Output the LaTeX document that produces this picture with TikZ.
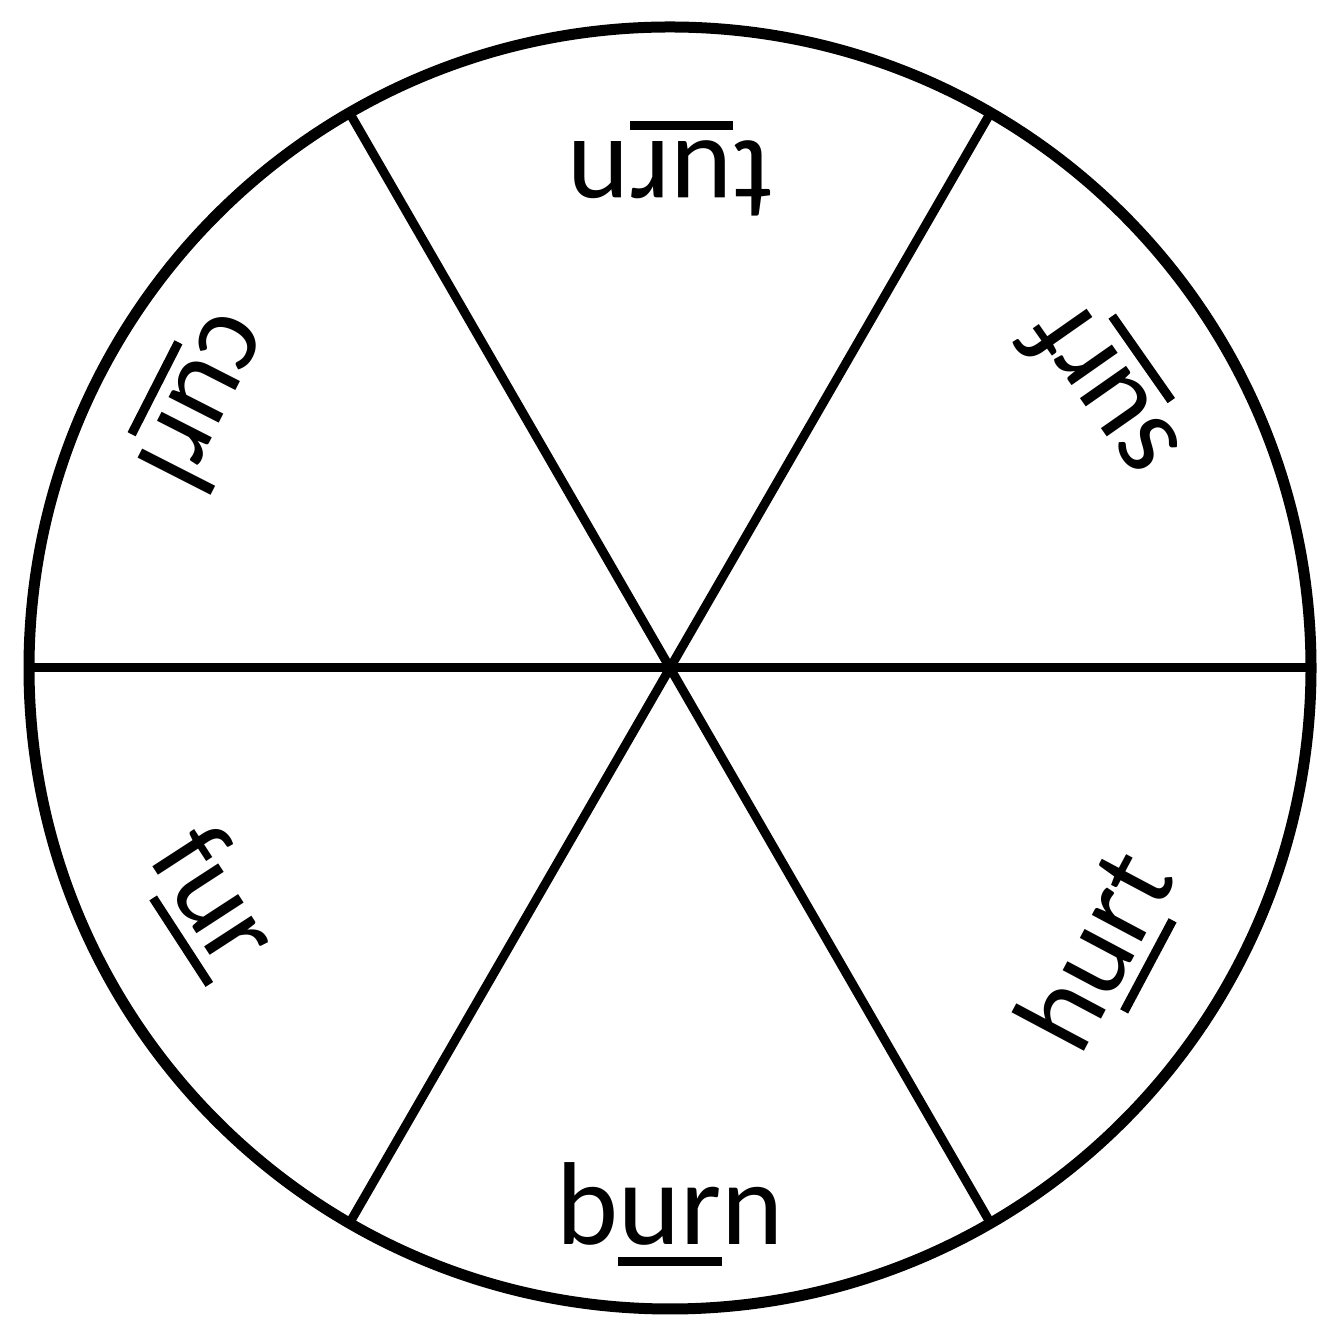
\documentclass[tikz,border=0pt]{standalone}
\usepackage{fontspec}
\setmainfont{Carlito}
\usetikzlibrary{calc}
\newcommand\ulr[1]{\setbox0\hbox{#1}\rlap{\rule[-21pt]{\wd0}{9pt}}\box0}
\begin{document}
\begin{tikzpicture}[x=1pt,y=1pt,
  rim/.style={line width=11pt},
  spoke/.style={line width=9pt},
  word/.style={anchor=base,inner sep=0pt,font=\fontsize{118}{130}\selectfont}]
\useasboundingbox (0,0) rectangle (1324,1321);
\coordinate (c) at (670,653);
\draw[rim] (c) circle[radius=641];
\foreach \a in {0,60,120}{
  \draw[spoke] ($(c)+(\a:636)$) -- ($(c)+(\a+180:636)$);
}
\node[word,rotate=180] (turn) at ($(c)+(90:526)$) {t\ulr{ur}n};
\node[word,rotate=125] (surf) at ($(c)+(32.7:548)$) {s\ulr{ur}f};
\node[word,rotate=62] (hurt) at ($(c)+(326.8:548)$) {h\ulr{ur}t};
\node[word,rotate=0] (burn) at ($(c)+(270:577)$) {b\ulr{ur}n};
\node[word,rotate=303] (fur) at ($(c)+(207.2:545)$) {f\ulr{ur}};
\node[word,rotate=243] (curl) at ($(c)+(150.3:570)$) {c\ulr{ur}l};
\end{tikzpicture}
\end{document}
